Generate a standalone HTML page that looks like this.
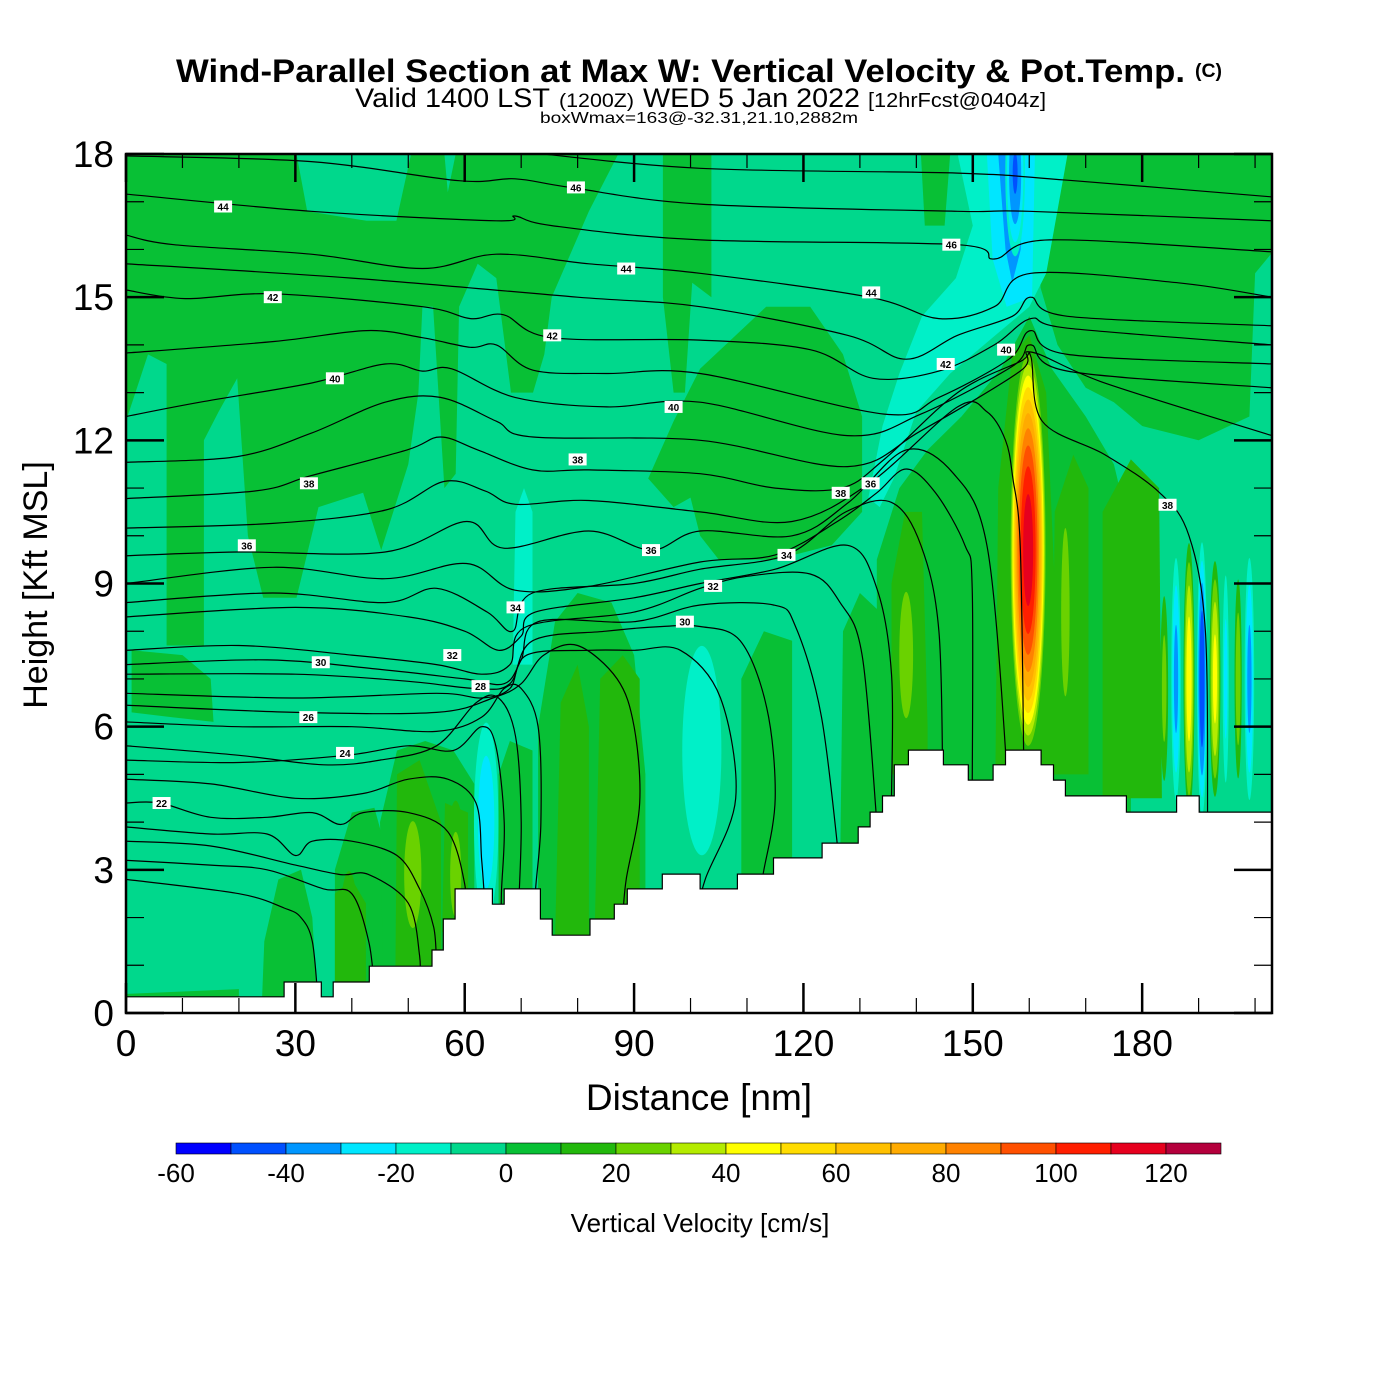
<!DOCTYPE html>
<html><head><meta charset="utf-8"><title>Wind-Parallel Section</title>
<style>html,body{margin:0;padding:0;background:#fff}svg{display:block}text{font-family:"Liberation Sans",Arial,sans-serif}</style>
</head><body>
<svg id="chart" xmlns="http://www.w3.org/2000/svg" width="1400" height="1400" viewBox="0 0 1400 1400">
<rect x="0" y="0" width="1400" height="1400" fill="#fff"/>
<g>
<text x="176" y="82" font-size="32" font-weight="bold" textLength="1009" lengthAdjust="spacingAndGlyphs">Wind-Parallel Section at Max W: Vertical Velocity &amp; Pot.Temp.</text>
<text x="1195" y="77" font-size="19" font-weight="bold" textLength="27" lengthAdjust="spacingAndGlyphs">(C)</text>
<text x="355" y="107" font-size="27" textLength="195" lengthAdjust="spacingAndGlyphs">Valid 1400 LST</text>
<text x="559" y="107" font-size="19" textLength="75" lengthAdjust="spacingAndGlyphs">(1200Z)</text>
<text x="643" y="107" font-size="27" textLength="217" lengthAdjust="spacingAndGlyphs">WED 5 Jan 2022</text>
<text x="868" y="107" font-size="20" textLength="178" lengthAdjust="spacingAndGlyphs">[12hrFcst@0404z]</text>
<text x="540" y="123" font-size="16" textLength="318" lengthAdjust="spacingAndGlyphs">boxWmax=163@-32.31,21.10,2882m</text>
</g>
<defs><clipPath id="plotclip"><rect x="126" y="154" width="1146" height="859"/></clipPath></defs>
<g id="plot" clip-path="url(#plotclip)"></g>
<g id="axes"></g>
<g id="cbar"></g>
</svg>
<script>
// ---------- data ----------
const bandLower = [-60,-50,-40,-30,-20,-10,0,10,20,30,40,50,60,70,80,90,100,110,120];
const bandColors = ["#0000ff","#0050ff","#0096ff","#00e6ff","#00f0c8","#00d88c","#08c035","#22b80c","#6ad200","#b4eb00","#ffff00","#ffdc00","#ffc000","#ffab00","#ff8200","#ff5000","#ff1e00","#e6001e","#b4003c"];
const xTicks = [0,30,60,90,120,150,180];
const yTicks = [0,3,6,9,12,15,18];
const cbarTicks = [-60,-40,-20,0,20,40,60,80,100,120];
// terrain: segment start distance (nm) and height (kft)
const terrainD = [0,28.0,34.6,36.7,43.1,54.2,56.2,58.3,64.9,67.0,73.4,75.5,82.2,86.5,88.8,95.0,101.7,108.3,114.7,123.3,129.7,131.8,134.0,136.1,138.6,144.8,149.2,153.6,155.8,162.1,164.3,166.4,177.2,186.1,190.1];
const terrainH = [0.34,0.65,0.34,0.65,0.98,1.32,1.97,2.6,2.28,2.6,1.97,1.63,1.97,2.28,2.6,2.91,2.6,2.91,3.25,3.56,3.9,4.21,4.55,5.2,5.51,5.2,4.88,5.2,5.51,5.2,4.88,4.55,4.21,4.55,4.21];
// filled regions: band value + polygon in (distance, height)
const regionBand = [0,0,0,0,0,0,0,0,0,0,0,0,0,0,0,10,10,10,10,10,10,10,10,-15,-25,-35,-45,-15,10];
const regionPts = [
 [[0,18],[30.2,18],[32.1,16.8],[42.6,16.6],[47.9,16.6],[50.5,18],[56.4,18],[57,17.2],[58.4,18],[87.2,18],[82,16.8],[75.4,15.0],[74.1,13.8],[72.1,13.0],[68.2,13.0],[65.6,15.4],[62.3,15.7],[59,14.8],[58.4,11.3],[56.4,11.0],[54.4,14.8],[52.5,14.8],[51.8,13.0],[50,11.5],[45.2,9.7],[42,10.9],[39.3,10.8],[34.1,10.6],[30.2,8.7],[24.3,8.7],[21.6,10.0],[19.7,13.3],[16.4,12.6],[13.8,12.0],[13.8,7.7],[7.2,7.7],[7.2,13.6],[3.9,13.8],[0,12.4]],
 [[95.1,18],[103.7,18],[103.7,15],[100.3,15.3],[99,13],[97,13.0],[95.1,15]],
 [[92.5,11.2],[97,12.4],[101.7,13.5],[113.4,14.8],[121.2,14.8],[127,13.8],[130.4,12.5],[130.4,10.5],[125,9.8],[115,9.5],[105,9.5],[101.7,10.0],[100,10.8],[97,10.6]],
 [[140.8,18],[146,18],[145,16.5],[141.5,16.5]],
 [[162,17],[163,18],[203.5,18],[203.5,16],[200,15.5],[199,12.5],[190,12],[180,12.3],[175,12.8],[170,13.1],[165,14],[162,15.2]],
 [[1,7.6],[10,7.5],[15,7.0],[15.5,6.1],[8,6.2],[1,6.3]],
 [[24,0],[24.5,1.5],[27,2.8],[31,3],[33,2],[34,0]],
 [[37,0],[37,3],[40,4.2],[44,4.3],[47,3],[47,0]],
 [[45.7,0],[45,4],[48,5.5],[53,5.7],[58,5.5],[61.7,4.8],[61.7,0]],
 [[66,1],[66,5],[68,5.7],[72,5.5],[72,1]],
 [[73,1],[73,6],[76,8.2],[80,8.8],[86,8.6],[90,7.5],[92,5],[92,1]],
 [[109,2],[109,7],[113,8],[118,7.8],[118,2]],
 [[126.5,3],[127,8],[130,8.8],[133.6,8.4],[133.6,3]],
 [[133,4],[133,9.5],[137,11],[142,11.8],[148,12.5],[155,13.5],[160,14.6],[164,13.5],[170,12.5],[175,11.5],[178,10],[178,4]],
 [[0,0],[0,0.4],[20,0.5],[20,0]],
 [[135.6,5],[135.6,9],[138,10.5],[141,10.5],[142,6],[142,5]],
 [[154,5],[154.5,11],[157,13.8],[160,14.2],[163,13],[164.5,9],[165,5]],
 [[164,5],[164.5,10.5],[167.8,11.7],[170.5,11],[170.5,5]],
 [[173,4.5],[173,10.5],[178,11.6],[183,11],[183.5,4.5]],
 [[83,1.6],[84,7],[88,7.5],[91,7],[91,1.6]],
 [[37,0.3],[37,2.5],[40,2.8],[42.5,2.3],[42.5,0.3]],
 [[47.7,0.6],[48,5],[52,5.3],[55.8,4],[55.8,0.6]],
 [[56,1.7],[56.5,4.4],[60.6,4.2],[60.6,1.7]],
 [[147.3,18],[166.8,18],[163,15.5],[160,14.8],[154,14.2],[146,13.4],[140,12.6],[136,11.2],[133.5,10.6],[131.5,10.8],[134,12.3],[137,13.4],[141,14.6],[147,15.4],[150,16.5]],
 [[152.5,18],[161,18],[160.5,15],[156,14.8],[153.5,15.8]],
 [[154.5,18],[159,18],[158.5,16.0],[157,15.3],[155.8,16]],
 [[156.4,18],[158,18],[157.6,17.3],[156.6,17.3]],
 [[68.5,7.3],[69,10.5],[70.5,11],[72,10.5],[72,7.3]],
 [[76,1.5],[77,6.5],[80,7.3],[82,6],[82,1.5]]
];
// W cells (distance, height, half-width nm, half-height kft, amplitude cm/s)
const cellD   = [159.8,166.4,138.2,50.8,58.4,39.5,87,183.9,188.3,192.9,197.0,186.0,190.6,194.8,199.0,157.5,63.8,102];
const cellH   = [9.7,8.4,7.5,2.9,2.9,1.5,4.5,6.8,7.0,7.0,7.0,7.0,7.0,7.0,7.0,17.6,4.0,5.5];
const cellRX  = [3.4,1.4,2.4,3.0,2.2,2.7,5.0,0.9,1.1,1.1,0.8,1.0,1.0,0.7,1.0,2.0,2.7,6.0];
const cellRY  = [4.5,3.3,2.6,2.2,2.0,2.3,4.0,2.5,3.2,2.8,2.6,3.0,3.2,2.8,3.0,2.0,2.6,3.8];
const cellAmp = [118,28,27,27,25,17,17,25,48,45,28,-35,-50,-25,-35,-42,-28,-15];
// theta contour lines (distance, height)
const thetaLines = [
 [[70,18.05],[101.7,17.7],[147.3,17.6],[166.8,17.45],[203,17.1]],
 [[0,17.96],[32.8,17.84],[59,17.44],[68.9,17.48],[78.7,17.3],[101.7,16.95],[147.3,16.8],[160,16.8],[203,16.6]],
 [[0,17.16],[32.8,16.8],[65.6,16.6],[68.9,16.7],[75.4,16.5],[101.7,16.2],[147.3,16.1],[153.8,15.8],[163.6,16.2],[203,15.95]],
 [[0,16.3],[8.5,16.1],[32.8,15.9],[52.5,15.6],[65.6,15.9],[82,15.7],[101.7,15.5],[131.7,15.0],[144,14.55],[153.8,14.8],[160.3,15.5],[186.4,15.3],[203,15.0]],
 [[0,15.7],[40,15.4],[80,15.0],[101.7,14.8],[127.8,14.2],[138.2,13.7],[147.3,14.2],[157,14.6],[160.3,15.0],[166.8,14.6],[203,14.4]],
 [[0,15.15],[10.5,14.97],[26.2,15.07],[52.5,14.8],[61,14.55],[66.9,14.63],[75.4,14.15],[101.7,14.1],[121.2,13.9],[132.3,13.3],[144,13.45],[153.8,14.0],[160.3,14.55],[166.8,14.35],[203,14.0]],
 [[0,13.83],[26.2,14.07],[42.6,14.3],[52.5,14.15],[61,13.95],[65.6,14.0],[72.1,13.47],[85,13.4],[101.7,13.4],[134.3,12.55],[144,12.9],[156.4,13.7],[160.3,14.3],[166.8,13.8],[203,13.6]],
 [[0,12.5],[13.1,12.8],[32.8,13.2],[45.9,13.6],[52.5,13.45],[57.7,13.5],[68.9,12.9],[85.2,12.7],[101.7,12.8],[127.8,12.1],[140.8,12.55],[157,13.55],[160.3,14.0],[166.8,13.45],[203,13.1]],
 [[0,11.54],[19.7,11.66],[32.8,12.15],[45.9,12.8],[55.7,12.9],[65.6,12.4],[72.1,12.07],[101.7,12.0],[127.8,11.45],[140.8,12.2],[158.4,13.45],[160.3,13.85],[173.4,13.2],[203,12.1]],
 [[0,10.78],[23,10.94],[32.8,11.26],[49.8,11.8],[55.7,12.07],[62.3,11.8],[72,11.38],[82,11.38],[101.7,11.3],[115,11.0],[126.8,11.0],[134.3,11.6],[147.3,13.0],[158.4,13.65],[160.3,13.75],[162.3,12.4],[173.4,11.7],[183.1,10.9],[188.3,10.0],[191.2,8.0],[191.6,4.0]],
 [[0,10.16],[26,10.26],[46,10.54],[56.4,11.14],[63.6,10.94],[69,10.66],[82,10.74],[101.7,10.5],[118,10.3],[131.7,11.1],[147.3,12.7],[152.5,12.6],[155.8,12.0],[157.1,11.2],[158.4,9.8],[159,5.5],[159,4]],
 [[0,9.58],[19.7,9.66],[45.9,9.66],[60.3,10.3],[66.9,9.74],[82,10.1],[93,9.7],[101.7,10.1],[118,10.0],[128,10.7],[138.2,11.8],[146.6,11.3],[152.5,9.8],[155.8,5.5],[155.8,4]],
 [[0,9.0],[26,9.34],[45.9,9.1],[60.3,9.42],[68.9,8.86],[82,8.94],[101.7,9.45],[115,9.6],[126,10.3],[133,10.9],[138.2,11.4],[143.4,10.9],[148.6,9.8],[149.9,8.9],[149.9,4.5]],
 [[0,8.6],[26,8.8],[45.9,8.6],[55,8.9],[64,8.4],[68.5,8.0],[72,8.8],[90,9.0],[101.7,9.3],[117,9.6],[127.5,10.5],[135.6,10.7],[140.8,9.8],[144,8.0],[144.7,4.5]],
 [[0,8.3],[30,8.5],[50,8.3],[60,8.0],[66,7.6],[70,7.9],[72.5,8.4],[90,8.7],[101.7,9.0],[115,9.3],[127.8,9.8],[133,8.9],[135.6,7.1],[135.6,4.5]],
 [[0,7.6],[20,7.7],[40,7.5],[55,7.3],[63,7.1],[68,7.3],[71,8.1],[90,8.4],[101.7,8.9],[110,9.15],[121.2,9.2],[126.5,8.6],[130.4,7.5],[133,4.0]],
 [[0,7.3],[25,7.4],[45,7.2],[60,7.0],[67,6.9],[70,7.4],[73,8.2],[90,8.2],[101.7,8.55],[114.7,8.55],[118.6,8.1],[123.2,6.2],[126.5,3.0]],
 [[0,7.1],[30,7.1],[50,6.95],[62,6.8],[68,6.9],[72,7.8],[85,8.0],[95,8.1],[101.7,8.1],[108.8,7.8],[113.5,6.4],[115,4.5],[113,3.0],[112,2.5]],
 [[0,6.7],[30,6.6],[55,6.7],[63,6.6],[68,6.8],[71,7.5],[82,7.6],[90,7.6],[98.2,7.6],[105.3,6.6],[108,4.5],[102.6,2.8],[101,2.0]],
 [[0,6.45],[30,6.3],[55,6.3],[65,6.6],[70,6.9],[74,7.5],[80,7.7],[87,7.0],[90,6.0],[91,4.4],[88.6,2.8],[88,2.0]],
 [[0,6.1],[20,6.0],[40,6.0],[55,5.9],[63,6.2],[67,6.8],[70,6.8],[73,6],[73.5,4],[72.5,2.5],[72.5,1.5]],
 [[0,5.6],[20,5.4],[35,5.2],[45,5.3],[55,5.6],[62,6.5],[66,6.6],[69,5.8],[70,4],[69.5,2],[69.5,1]],
 [[0,5.3],[20,5.25],[39,5.4],[50,5.6],[58,5.5],[63,6.0],[65.5,5.6],[67,4],[66.5,2.5],[66.5,1.5]],
 [[0,4.9],[15,4.8],[30,4.5],[42,4.6],[50,4.9],[57,4.9],[62,4.4],[63,3.2],[63.5,2.4]],
 [[0,4.4],[6,4.4],[15,4.1],[25,4.1],[33,4.2],[38,3.95],[42,4.2],[50,4.2],[57,3.8],[60,2.7],[60,2.0]],
 [[0,3.9],[15,3.75],[25,3.75],[30,3.3],[33,3.6],[40,3.6],[48,3.3],[52,2.6],[54.5,1.8],[55,1.0]],
 [[0,3.6],[15,3.5],[30,3.1],[38,2.9],[43,2.9],[50,2.3],[52,1.2],[52,0.6]],
 [[0,3.2],[15,3.1],[25,3.0],[35,2.6],[40,2.5],[43,1.5],[44,0.5]],
 [[0,2.8],[20,2.5],[28,2.2],[31,2.0],[33,1.5],[34,0.3]]
];
const labelText = ["44","46","42","44","46","44","42","40","40","42","40","38","38","38","36","38","36","36","34","34","32","30","32","30","28","26","24","22"];
const labelD = [17.2,79.7,26,88.6,146.2,132,75.5,37,97,145.2,155.9,32.4,80,126.6,131.9,184.5,21.4,93,117,69,104,99,57.8,34.5,62.8,32.3,38.8,6.3];
const labelH = [16.9,17.3,15.0,15.6,16.1,15.1,14.2,13.3,12.7,13.6,13.9,11.1,11.6,10.9,11.1,10.65,9.8,9.7,9.6,8.5,8.95,8.2,7.5,7.35,6.85,6.2,5.45,4.4];

// ---------- scales ----------
const X0=126, X1=1272, Y0=1013, Y1=154, DMAX=203.0, HMAX=18;
const X = d => X0 + d*(X1-X0)/DMAX;
const Y = h => Y0 - h*(Y0-Y1)/HMAX;
const NS="http://www.w3.org/2000/svg";
function mk(tag, attrs, parent){const e=document.createElementNS(NS,tag);for(const k in attrs)e.setAttribute(k,attrs[k]);parent.appendChild(e);return e;}
function colorOf(v){let i=0;for(let k=0;k<bandLower.length;k++){if(v>=bandLower[k])i=k;}return bandColors[i];}
function smoothPath(pts){
 const p=pts.map(q=>[X(q[0]),Y(q[1])]);
 let s="M"+p[0][0].toFixed(1)+","+p[0][1].toFixed(1);
 for(let i=0;i<p.length-1;i++){
  const a=p[Math.max(0,i-1)],b=p[i],c=p[i+1],d=p[Math.min(p.length-1,i+2)];
  const c1=[b[0]+(c[0]-a[0])/6,b[1]+(c[1]-a[1])/6],c2=[c[0]-(d[0]-b[0])/6,c[1]-(d[1]-b[1])/6];
  s+=" C"+c1[0].toFixed(1)+","+c1[1].toFixed(1)+" "+c2[0].toFixed(1)+","+c2[1].toFixed(1)+" "+c[0].toFixed(1)+","+c[1].toFixed(1);
 }
 return s;
}
const plot=document.getElementById('plot');
const base=mk('rect',{x:X0,y:Y1,width:X1-X0,height:Y0-Y1,fill:colorOf(-5)},plot);


// regions
regionPts.forEach((pts,i)=>{
 const e=mk('polygon',{points:pts.map(q=>X(q[0]).toFixed(1)+","+Y(q[1]).toFixed(1)).join(" "),fill:colorOf(regionBand[i])},plot);
 
 
});
// cells
cellAmp.forEach((A,i)=>{
 const sgn=A>0?1:-1;
 for(let t=10*sgn; Math.abs(t)<Math.abs(A); t+=10*sgn){
  const s=Math.sqrt(1-t/A);
  const col=colorOf(sgn>0?t:t-10);
  const e=mk('ellipse',{cx:X(cellD[i]),cy:Y(cellH[i]),rx:(cellRX[i]*s*(X1-X0)/DMAX).toFixed(2),ry:(cellRY[i]*s*(Y0-Y1)/HMAX).toFixed(2),fill:col},plot);
  
  
 }
});
// theta lines
thetaLines.forEach((pts,i)=>{
 const e=mk('path',{d:smoothPath(pts),fill:'none',stroke:'#000','stroke-width':1.2},plot);
 
 
});
// labels
labelText.forEach((t,i)=>{
 const g=mk('g',{},plot);
 
 
 mk('rect',{x:X(labelD[i])-9,y:Y(labelH[i])-6,width:18,height:12,fill:'#fff'},g);
 const tx=mk('text',{x:X(labelD[i]),y:Y(labelH[i])+4,'font-size':10,'text-anchor':'middle','font-weight':'bold'},g);
 tx.textContent=t;
});
// terrain
let tp="M"+X(0)+","+(Y0+2);
terrainD.forEach((d,i)=>{const dn=i<terrainD.length-1?terrainD[i+1]:DMAX+1;tp+=" L"+X(d).toFixed(1)+","+Y(terrainH[i]).toFixed(1)+" L"+X(dn).toFixed(1)+","+Y(terrainH[i]).toFixed(1);});
tp+=" L"+X(DMAX+1)+","+(Y0+2)+" Z";
const ter=mk('path',{d:tp,fill:'#fff',stroke:'#000','stroke-width':1.2},plot);



// ---------- axes ----------
const ax=document.getElementById('axes');
for(let d=0; d<=DMAX; d+=10){
 const major=d%30===0, L=major?30:15, Lt=major?28:14;
 const b=mk('line',{x1:X(d),x2:X(d),y1:Y0,y2:Y0-L,stroke:'#000','stroke-width':major?2.5:1.2},ax);
 
 
 const t=mk('line',{x1:X(d),x2:X(d),y1:Y1,y2:Y1+Lt,stroke:'#000','stroke-width':major?2.5:1.2},ax);
 
 
}
for(let h=0; h<=HMAX; h+=1){
 const major=h%3===0, L=major?38:18;
 const l=mk('line',{x1:X0,x2:X0+L,y1:Y(h),y2:Y(h),stroke:'#000','stroke-width':major?2.5:1.2},ax);
 
 
 const r=mk('line',{x1:X1,x2:X1-L,y1:Y(h),y2:Y(h),stroke:'#000','stroke-width':major?2.5:1.2},ax);
 
 
}
const fr=mk('rect',{x:X0,y:Y1,width:X1-X0,height:Y0-Y1,fill:'none',stroke:'#000','stroke-width':2.5},ax);


xTicks.forEach(v=>{
 const t=mk('text',{x:X(v),y:1056,'font-size':37,'text-anchor':'middle'},ax);
 
 
 t.textContent=v;
});
yTicks.forEach(v=>{
 const t=mk('text',{x:114,y:Y(v)+13,'font-size':37,'text-anchor':'end'},ax);
 
 
 t.textContent=v;
});
const xt=mk('text',{x:699,y:1110,'font-size':37,'text-anchor':'middle'},ax);


xt.textContent='Distance [nm]';
const yt=mk('text',{x:0,y:0,'font-size':34,'text-anchor':'middle',transform:'translate(47,585) rotate(-90)'},ax);


yt.textContent='Height [Kft MSL]';

// ---------- colorbar ----------
const cb=document.getElementById('cbar');
const CB0=176, CBW=55;
const cbx = v => CB0 + (v-bandLower[0])/10*CBW;
bandLower.forEach((v,i)=>{
 const r=mk('rect',{x:cbx(v),y:1143,width:CBW,height:11,fill:bandColors[i],stroke:'#000','stroke-width':0.6},cb);
 
 
});
cbarTicks.forEach(v=>{
 const t=mk('text',{x:cbx(v),y:1182,'font-size':26,'text-anchor':'middle'},cb);
 
 
 t.textContent=v;
});
const ct=mk('text',{x:700,y:1232,'font-size':26,'text-anchor':'middle'},cb);


ct.textContent='Vertical Velocity [cm/s]';
</script>
</body></html>
